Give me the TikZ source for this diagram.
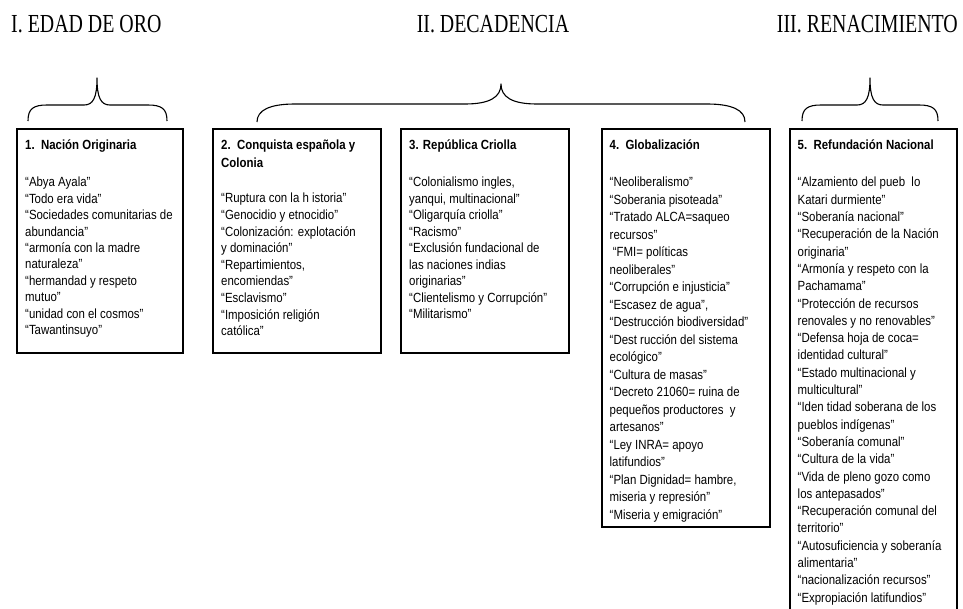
\documentclass[tikz,border=0pt]{standalone}
\usepackage{fontspec}
\setmainfont{Liberation Sans}[FakeStretch=0.86]
\newfontfamily\erafont{Liberation Serif}[FakeStretch=0.765]
\newlength{\du}
\setlength{\du}{1pt}
\tikzset{
  panel/.style={draw=black, line width=1.6\du, anchor=north west, inner sep=0pt},
  paneltext/.style={anchor=north west, inner sep=0pt, align=left, font=\fontsize{13.3}{#1}\selectfont},
  paneltext/.default=17.3pt,
  eratitle/.style={inner sep=0pt, font=\erafont\fontsize{26}{26}\selectfont},
  bracket/.style={line width=1.1\du, line join=round}
}

\begin{document}
\begin{tikzpicture}[x=1\du,y=-1\du]
\useasboundingbox (0,0) rectangle (963,608);
% era titles
\node[eratitle, anchor=base west] (edad) at (11,32) {I. EDAD DE ORO};
\node[eratitle, anchor=base] (decadencia) at (493,32) {II. DECADENCIA};
\node[eratitle, anchor=base east] (renacimiento) at (958,32) {III. RENACIMIENTO};
% braces
\draw[bracket] (28,121) .. controls (28,109) and (33,105) .. (47,105) -- (84,105) .. controls (93,105) and (97,98) .. (97,78)
  .. controls (97,98) and (101,105) .. (110,105) -- (148,105) .. controls (162,105) and (167,109) .. (167,121);
\draw[bracket] (257,122) .. controls (257,110) and (270,104) .. (295,104) -- (465,104) .. controls (490,104) and (501,97) .. (501,84)
  .. controls (501,97) and (512,104) .. (537,104) -- (707,104) .. controls (732,104) and (745,110) .. (745,122);
\draw[bracket] (802,121) .. controls (802,109) and (807,105) .. (821,105) -- (857,105) .. controls (866,105) and (870,98) .. (870,78)
  .. controls (870,98) and (874,105) .. (883,105) -- (919,105) .. controls (933,105) and (938,109) .. (938,121);
% panels
\node[panel, minimum width=166\du, minimum height=224\du] (nacion) at (16,128) {};
\node[panel, minimum width=168\du, minimum height=224\du] (conquista) at (212,128) {};
\node[panel, minimum width=168\du, minimum height=224\du] (republica) at (400,128) {};
\node[panel, minimum width=168\du, minimum height=398\du] (globalizacion) at (601,128) {};
\node[panel, minimum width=167\du, minimum height=490\du] (refundacion) at (789,128) {};
% panel texts
\node[paneltext=16.4pt] (nacion-txt) at (25,136.7) {\rule{0pt}{13pt}\textbf{1.\ \ Nación Originaria}\\[20.6pt]
“Abya Ayala”\\
“Todo era vida”\\
“Sociedades comunitarias de\\
abundancia”\\
“armonía con la madre\\
naturaleza”\\
“hermandad y respeto\\
mutuo”\\
“unidad con el cosmos”\\
“Tawantinsuyo”};
\node[paneltext=16.6pt] (conquista-txt) at (221,136.7) {\rule{0pt}{13pt}\textbf{2.\ \ Conquista española y}\\[1.4pt]
\textbf{Colonia}\\[18.4pt]
“Ruptura con la h istoria”\\
“Genocidio y etnocidio”\\
“Colonización: explotación\\
y dominación”\\
“Repartimientos,\\
encomiendas”\\
“Esclavismo”\\
“Imposición religión\\
católica”};
\node[paneltext=16.5pt] (republica-txt) at (409,136.7) {\rule{0pt}{13pt}\textbf{3. República Criolla}\\[20.5pt]
“Colonialismo ingles,\\
yanqui, multinacional”\\
“Oligarquía criolla”\\
“Racismo”\\
“Exclusión fundacional de\\
las naciones indias\\
originarias”\\
“Clientelismo y Corrupción”\\
“Militarismo”};
\node[paneltext=17.5pt] (globalizacion-txt) at (609.5,136.7) {\rule{0pt}{13pt}\textbf{4.\ \ Globalización}\\[19.5pt]
“Neoliberalismo”\\
“Soberania pisoteada”\\
“Tratado ALCA=saqueo\\
recursos”\\
\ “FMI= políticas\\
neoliberales”\\
“Corrupción e injusticia”\\
“Escasez de agua”,\\
“Destrucción biodiversidad”\\
“Dest rucción del sistema\\
ecológico”\\
“Cultura de masas”\\
“Decreto 21060= ruina de\\
pequeños productores\ \ y\\
artesanos”\\
“Ley INRA= apoyo\\
latifundios”\\
“Plan Dignidad= hambre,\\
miseria y represión”\\
“Miseria y emigración”};
\node[paneltext=17.3pt] (refundacion-txt) at (797.5,136.7) {\rule{0pt}{13pt}\textbf{5.\ \ Refundación Nacional}\\[19.7pt]
“Alzamiento del pueb\ \ lo\\
Katari durmiente”\\
“Soberanía nacional”\\
“Recuperación de la Nación\\
originaria”\\
“Armonía y respeto con la\\
Pachamama”\\
“Protección de recursos\\
renovales y no renovables”\\
“Defensa hoja de coca=\\
identidad cultural”\\
“Estado multinacional y\\
multicultural”\\
“Iden tidad soberana de los\\
pueblos indígenas”\\
“Soberanía comunal”\\
“Cultura de la vida”\\
“Vida de pleno gozo como\\
los antepasados”\\
“Recuperación comunal del\\
territorio”\\
“Autosuficiencia y soberanía\\
alimentaria”\\
“nacionalización recursos”\\
“Expropiación latifundios”};
\end{tikzpicture}
\end{document}
